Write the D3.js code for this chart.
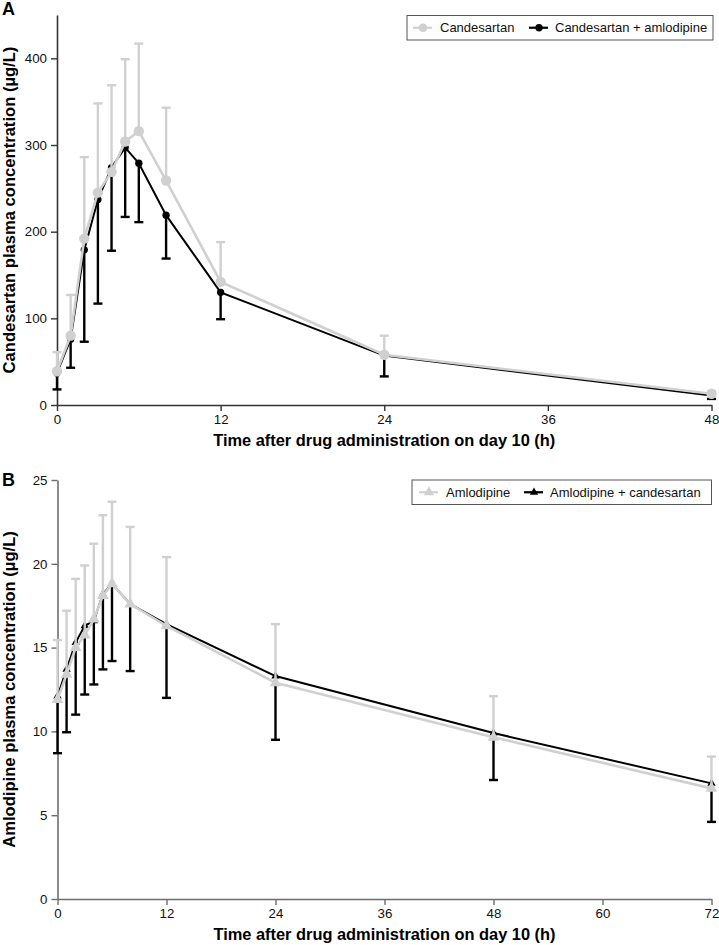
<!DOCTYPE html>
<html><head><meta charset="utf-8">
<script src="https://cdn.jsdelivr.net/npm/d3@7"></script>
<style>
body{margin:0;background:#fff;}
svg{display:block;font-family:Arial,"Liberation Sans",sans-serif;}
</style></head>
<body>
<svg id="chart" width="719" height="945"></svg>
<script>
// ---------- Data ----------
const timesA = [0, 1, 2, 3, 4, 5, 6, 8, 12, 24, 48];
const candMean = [39, 80, 192, 245, 269, 304, 316, 259, 142, 58, 13];
const candSD   = [22, 47, 94, 103, 100, 95, 101, 84, 46, 22, 3];
const candAmlMean = [37, 76, 179, 237, 274, 297, 279, 219, 130, 57, 11];
const candAmlSD   = [19, 33, 106, 120, 96, 80, 68, 50, 31, 24, 4];
const xTicksA = [0, 12, 24, 36, 48];
const yTicksA = [0, 100, 200, 300, 400];

const timesB = [0, 1, 2, 3, 4, 5, 6, 8, 12, 24, 48, 72];
const amlMean = [11.9, 13.4, 15.0, 15.75, 16.7, 18.1, 18.8, 17.6, 16.3, 12.9, 9.65, 6.6];
const amlSD   = [3.55, 3.8, 4.1, 4.15, 4.5, 4.8, 4.9, 4.6, 4.1, 3.5, 2.45, 1.9];
const amlCandMean = [12.1, 13.7, 15.3, 16.3, 16.6, 18.2, 18.8, 17.6, 16.4, 13.3, 9.9, 6.9];
const amlCandSD   = [3.4, 3.75, 4.3, 4.1, 3.8, 4.5, 4.6, 4.0, 4.4, 3.8, 2.8, 2.3];
const xTicksB = [0, 12, 24, 36, 48, 60, 72];
const yTicksB = [0, 5, 10, 15, 20, 25];

const GRAY = "#d0d0d0";
const BLACK = "#000";
const svg = d3.select("#chart");

function drawPanel(cfg) {
  const g = svg.append("g");
  const x = d3.scaleLinear().domain(cfg.xDomain).range([cfg.left, cfg.right]);
  const y = d3.scaleLinear().domain(cfg.yDomain).range([cfg.bottom, cfg.top]);

  // axes
  const xAxis = g.append("g").attr("transform", `translate(0,${cfg.bottom})`)
    .call(d3.axisBottom(x).tickValues(cfg.xTicks).tickSize(6).tickPadding(4).tickSizeOuter(0));
  const yAxis = g.append("g").attr("transform", `translate(${cfg.left},0)`)
    .call(d3.axisLeft(y).tickValues(cfg.yTicks).tickSize(6).tickPadding(4).tickSizeOuter(0));
  [xAxis, yAxis].forEach(a => {
    a.selectAll("path").attr("stroke", cfg.axisColor).attr("stroke-width", 1.6);
    a.selectAll("line").attr("stroke", cfg.axisColor).attr("stroke-width", 1.4);
    a.selectAll("text").attr("font-size", 13.3).attr("fill", "#111")
      .attr("font-family", 'Arial,"Liberation Sans",sans-serif');
  });

  // axis titles
  g.append("text").attr("x", (cfg.left + cfg.right) / 2).attr("y", cfg.bottom + 41)
    .attr("text-anchor", "middle").attr("font-size", 16.4).attr("font-weight", "bold")
    .text(cfg.xTitle);
  g.append("text")
    .attr("transform", `translate(15,${(cfg.top + cfg.bottom) / 2}) rotate(-90)`)
    .attr("text-anchor", "middle").attr("font-size", 16.6).attr("font-weight", "bold")
    .text(cfg.yTitle);
  g.append("text").attr("x", 2).attr("y", cfg.letterY)
    .attr("font-size", 18).attr("font-weight", "bold").text(cfg.letter);

  const line = d3.line().x(d => x(d.t)).y(d => y(d.v));
  const cap = 4.5;

  function series(times, mean, sd, color, dir, width, marker, msize) {
    const data = times.map((t, i) => ({ t, v: mean[i], sd: sd[i] }));
    const s = g.append("g");
    // error bars
    data.forEach(d => {
      const y0 = y(d.v), y1 = y(d.v + dir * d.sd), xx = x(d.t);
      s.append("line").attr("x1", xx).attr("x2", xx).attr("y1", y0).attr("y2", y1)
        .attr("stroke", color).attr("stroke-width", 2.4);
      s.append("line").attr("x1", xx - cap).attr("x2", xx + cap).attr("y1", y1).attr("y2", y1)
        .attr("stroke", color).attr("stroke-width", 2.4);
    });
    s.append("path").datum(data).attr("d", line).attr("fill", "none")
      .attr("stroke", color).attr("stroke-width", width);
    s.selectAll(".m").data(data).enter().append("path")
      .attr("transform", d => `translate(${x(d.t)},${y(d.v)})`)
      .attr("d", d3.symbol().type(marker).size(msize))
      .attr("fill", color);
  }

  series(cfg.times, cfg.bMean, cfg.bSD, BLACK, -1, 2, cfg.marker, cfg.bSize);
  series(cfg.times, cfg.gMean, cfg.gSD, GRAY, 1, 2.6, cfg.marker, cfg.gSize);

  // legend
  const L = cfg.legend;
  const lg = g.append("g");
  lg.append("rect").attr("x", L.x).attr("y", L.y).attr("width", L.w).attr("height", L.h)
    .attr("fill", "#fff").attr("stroke", "#555").attr("stroke-width", 1);
  const cy = L.y + L.h / 2;
  L.items.forEach(it => {
    lg.append("line").attr("x1", it.sx).attr("x2", it.sx + 19).attr("y1", cy).attr("y2", cy)
      .attr("stroke", it.color).attr("stroke-width", 2.2);
    lg.append("path").attr("transform", `translate(${it.sx + 10},${cy})`)
      .attr("d", d3.symbol().type(cfg.marker).size(it.size)).attr("fill", it.color);
    lg.append("text").attr("x", it.tx).attr("y", cy + 4.6).attr("font-size", 13).attr("fill", "#111")
      .text(it.label);
  });
}

drawPanel({
  letter: "A", letterY: 15,
  left: 57, right: 711.5, top: 15, bottom: 405,
  xDomain: [0, 48], yDomain: [0, 450],
  xTicks: xTicksA, yTicks: yTicksA, axisColor: "#333",
  xTitle: "Time after drug administration on day 10 (h)",
  yTitle: "Candesartan plasma concentration (µg/L)",
  times: timesA, gMean: candMean, gSD: candSD, bMean: candAmlMean, bSD: candAmlSD,
  marker: d3.symbolCircle, gSize: 85, bSize: 42,
  legend: { x: 407, y: 15.5, w: 306, h: 24.5, items: [
    { sx: 413, tx: 440, color: GRAY, size: 60, label: "Candesartan" },
    { sx: 529, tx: 555, color: BLACK, size: 42, label: "Candesartan + amlodipine" } ] }
});

drawPanel({
  letter: "B", letterY: 486,
  left: 57.5, right: 711.5, top: 480, bottom: 899,
  xDomain: [0, 72], yDomain: [0, 25],
  xTicks: xTicksB, yTicks: yTicksB, axisColor: "#6e6e6e",
  xTitle: "Time after drug administration on day 10 (h)",
  yTitle: "Amlodipine plasma concentration (µg/L)",
  times: timesB, gMean: amlMean, gSD: amlSD, bMean: amlCandMean, bSD: amlCandSD,
  marker: d3.symbolTriangle, gSize: 60, bSize: 30,
  legend: { x: 412, y: 480, w: 299.5, h: 24.5, items: [
    { sx: 419, tx: 446, color: GRAY, size: 45, label: "Amlodipine" },
    { sx: 524, tx: 550, color: BLACK, size: 30, label: "Amlodipine + candesartan" } ] }
});
</script>
</body></html>
